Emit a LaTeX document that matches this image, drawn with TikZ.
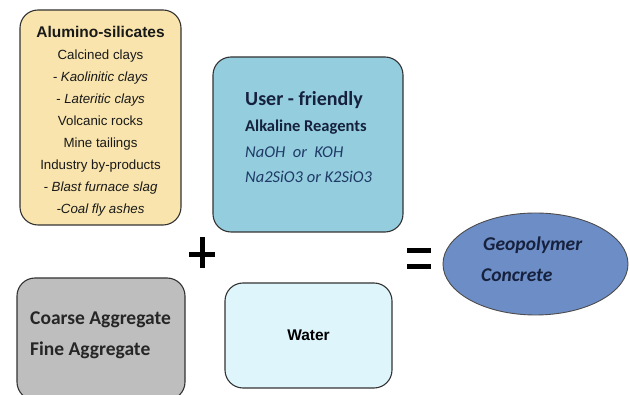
\documentclass[tikz,border=0pt]{standalone}
\usepackage{fontspec}
\usetikzlibrary{shapes.geometric}
\setmainfont{Liberation Sans}
\newfontfamily\carlito{Carlito}
\definecolor{aluyellow}{HTML}{F8E4AC}
\definecolor{reagblue}{HTML}{93CDDE}
\definecolor{agggrey}{HTML}{BEBEBE}
\definecolor{waterblue}{HTML}{DDF5FB}
\definecolor{geoblue}{HTML}{6D8DC6}
\definecolor{navy}{HTML}{16213E}
\definecolor{itblue}{HTML}{1F3A66}
\begin{document}
\begin{tikzpicture}[x=1pt,y=-1pt,
  box/.style={draw=black!80, line width=1.1pt, rounded corners=18pt, inner sep=0pt},
  lbl/.style={inner sep=0pt, anchor=west},
  sign/.style={fill=black}]
\useasboundingbox (0,0) rectangle (630,395);
\fill[white] (0,0) rectangle (630,395);

% Alumino-silicates
\node[box, fill=aluyellow, minimum width=161pt, minimum height=215pt] (alu) at (100.5,117.5) {};
\node[align=center, inner sep=0pt, text=black!90, font=\fontsize{13.3}{22}\selectfont] (alutext) at (100.5,121)
 {{\fontsize{15.5}{22}\selectfont\bfseries Alumino-silicates}\\
  Calcined clays\\
  \textit{- Kaolinitic clays}\\
  \textit{- Lateritic clays}\\
  Volcanic rocks\\
  Mine tailings\\
  Industry by-products\\
  \textit{- Blast furnace slag}\\
  \textit{-Coal fly ashes}};

% Reagents
\node[box, fill=reagblue, minimum width=190pt, minimum height=175pt] (reag) at (308,144.5) {};
\node[lbl, text=navy, font=\carlito\bfseries\fontsize{20}{24}\selectfont] (r1) at (245,100) {User - friendly};
\node[lbl, text=navy, font=\carlito\bfseries\fontsize{16.5}{20}\selectfont] (r2) at (245,127) {Alkaline Reagents};
\node[lbl, text=itblue, font=\carlito\itshape\fontsize{16.5}{20}\selectfont] (r3) at (245,152) {NaOH\ \ or\ \ KOH};
\node[lbl, text=itblue, font=\carlito\itshape\fontsize{16.5}{20}\selectfont] (r4) at (245,177) {Na2SiO3 or K2SiO3};

% Aggregates
\node[box, fill=agggrey, minimum width=168pt, minimum height=122pt] (agg) at (101,339) {};
\node[lbl, text=black!85, font=\carlito\bfseries\fontsize{19.5}{24}\selectfont] (a1) at (30,320) {Coarse Aggregate};
\node[lbl, text=black!85, font=\carlito\bfseries\fontsize{19.5}{24}\selectfont] (a2) at (30,350) {Fine Aggregate};

% Water
\node[box, fill=waterblue, minimum width=167pt, minimum height=105pt] (water) at (308.5,335.5)
 {\fontsize{15.5}{18}\selectfont\bfseries Water};

% Geopolymer
\node[draw=black!70, line width=0.9pt, ellipse, fill=geoblue, minimum width=185pt, minimum height=102pt, inner sep=0pt] (geo) at (535.5,264) {};
\node[lbl, text=navy, font=\carlito\bfseries\itshape\fontsize{19.5}{24}\selectfont] (g1) at (483,245) {Geopolymer};
\node[lbl, text=navy, font=\carlito\bfseries\itshape\fontsize{19.5}{24}\selectfont] (g2) at (481,275) {Concrete};

% plus and equals
\fill[sign] (200,237) rectangle (204.5,268);
\fill[sign] (189,252) rectangle (215,257);
\fill[sign] (407,248) rectangle (431,253);
\fill[sign] (407,264) rectangle (431,269);
\end{tikzpicture}
\end{document}
